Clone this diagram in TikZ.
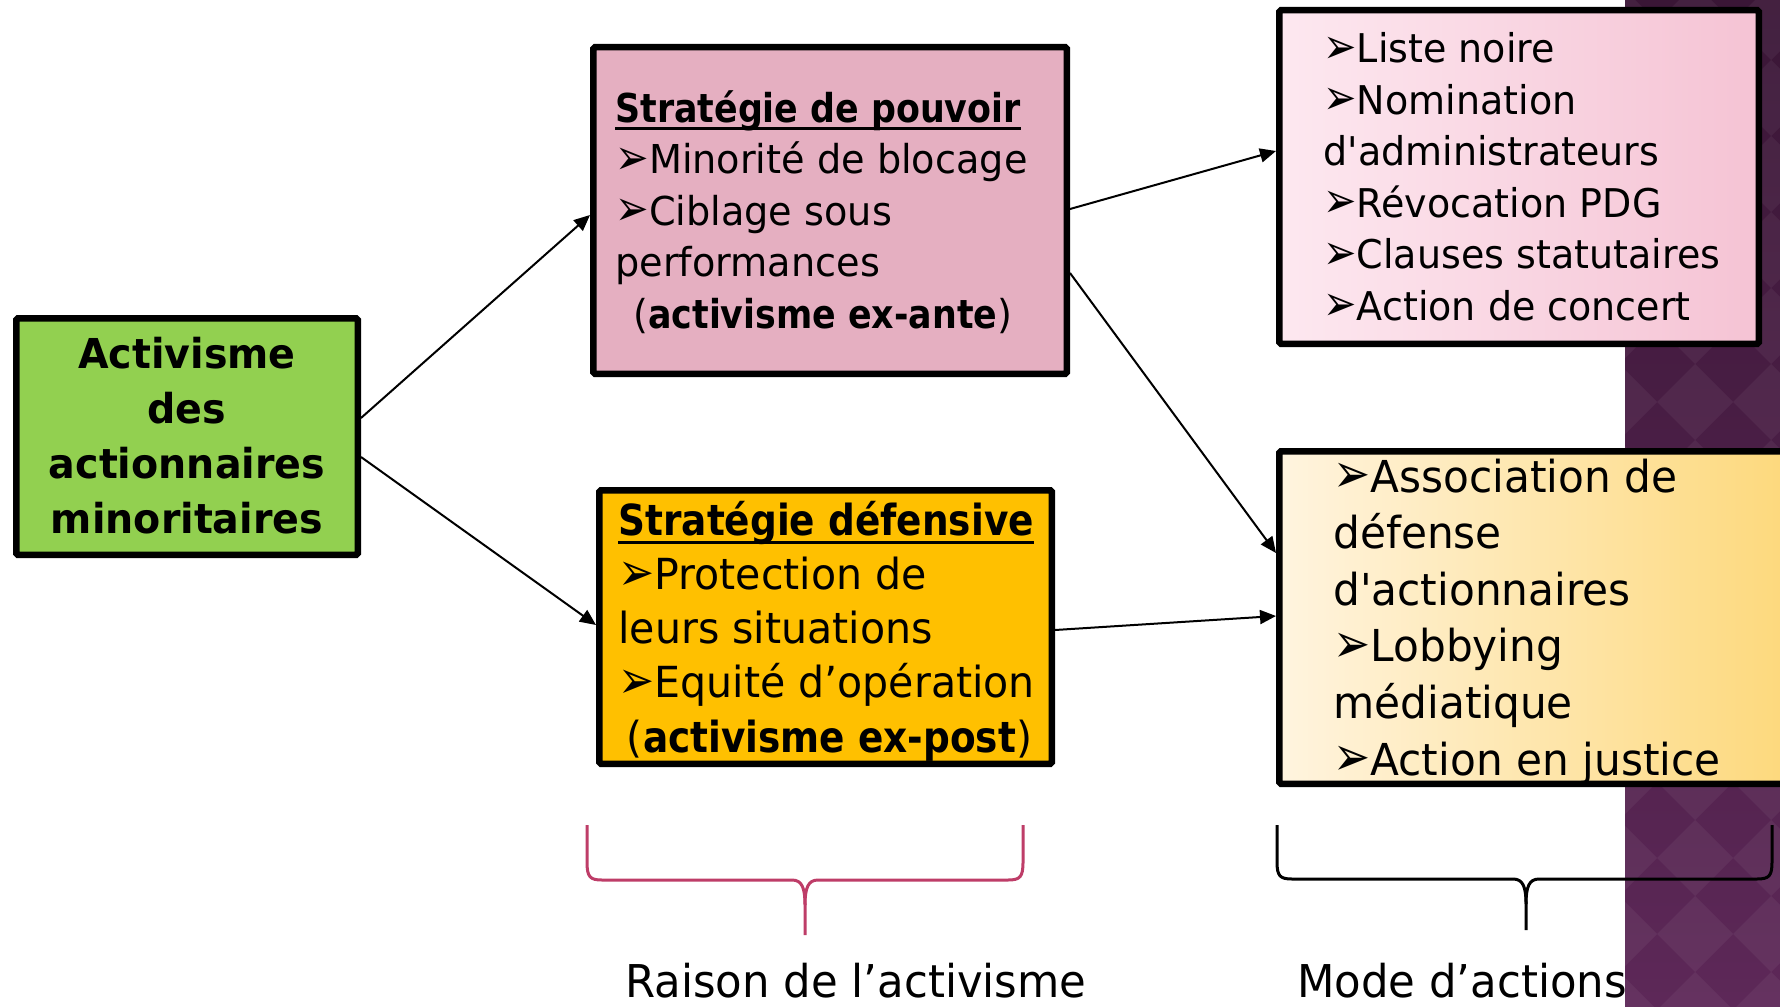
\documentclass[tikz,border=0pt]{standalone}
\usepackage{fontspec}
\setmainfont{DejaVu Sans}[FakeStretch=0.96, Ligatures=TeXOff, BoldFeatures={FakeStretch=0.875}]
\newfontfamily\greenfont{DejaVu Sans}[FakeStretch=0.96, Ligatures=TeXOff]
\usetikzlibrary{arrows.meta,fit}
\definecolor{grn}{HTML}{92D050}
\definecolor{pinkL}{HTML}{E5AFC1}
\definecolor{orng}{HTML}{FFC000}
\definecolor{trA}{HTML}{FDE8F0}
\definecolor{trB}{HTML}{F5C3D4}
\definecolor{ylA}{HTML}{FFF4DF}
\definecolor{ylB}{HTML}{FDD87A}
\definecolor{purA}{HTML}{3A1636}
\definecolor{purB}{HTML}{5D2858}
\definecolor{brc}{HTML}{BE3D68}
\newcommand\fsz[2]{\fontsize{#1}{#2}\selectfont}
\newcommand\blt{\raisebox{-0.02em}{\scalebox{1.05}[1.25]{➢}}}
\newcommand\ulx[1]{\setbox0\hbox{#1}\rlap{\rule[-0.21em]{\wd0}{0.075em}}\box0}
\begin{document}
\begin{tikzpicture}[x=0.5pt,y=-0.5pt,
  box/.style={draw=black, line width=3.25pt, inner sep=0pt, rounded corners=0.8pt},
  txt/.style={anchor=base west, inner sep=0pt, align=left},
  conn/.style={-{Triangle[length=8pt,width=7pt]}, line width=1pt, black},
  bracepath/.style={line width=1.5pt}]
\useasboundingbox (0,0) rectangle (1780,1006);
\fill[white] (0,0) rectangle (1780,1006);
% purple background
\begin{scope}
\clip (1625,0) rectangle (1780,1006);
\shade[top color=purA, bottom color=purB] (1625,0) rectangle (1780,1006);
\foreach \i in {-1,...,2}{
  \foreach \j in {-12,...,2}{
    \fill[white, opacity=0.05] (1695+76*\i,858+76*\j-38) -- ++(38,38) -- ++(-38,38) -- ++(-38,-38) -- cycle;
  }}
\end{scope}
% boxes
\node[box, fill=grn, fit={(16.25,318.25) (357.75,554.75)}] (green) {};
\node[box, fill=pinkL, fit={(593.25,47.25) (1066.75,373.75)}] (pinkbox) {};
\node[box, fill=orng, fit={(599.25,490.25) (1051.75,763.75)}] (orange) {};
\node[box, left color=trA, right color=trB, fit={(1279.25,10.25) (1758.75,343.75)}] (topR) {};
\node[box, left color=ylA, right color=ylB, fit={(1279.25,451.25) (1800,783.75)}] (yellow) {};
% texts (anchored at the baseline of their last line)
\node[anchor=base, align=center, inner sep=0pt, font=\greenfont\bfseries\fsz{20.6}{27.5}] (gtxt) at (187,533) {Activisme\\des\\actionnaires\\minoritaires};
\node[txt, font=\fsz{19.9}{25.75}] (ptxt) at (615,328) {\ulx{\bfseries Stratégie de pouvoir}\\\blt Minorité de blocage\\\blt Ciblage sous\\performances\\\hspace*{0.45em}(\textbf{activisme ex-ante})};
\node[txt, font=\fsz{21.4}{27.1}] (otxt) at (618,752) {\ulx{\bfseries Stratégie défensive}\\\blt Protection de\\leurs situations\\\blt Equité d’opération\\\hspace*{0.2em}(\textbf{activisme ex-post})};
\node[txt, font=\fsz{19.8}{25.75}] (trtxt) at (1323,320) {\blt Liste noire\\\blt Nomination\\d'administrateurs\\\blt Révocation PDG\\\blt Clauses statutaires\\\blt Action de concert};
\node[txt, font=\fsz{22.0}{28.3}] (ytxt) at (1333,775) {\blt Association de\\défense\\d'actionnaires\\\blt Lobbying\\médiatique\\\blt Action en justice};
\node[txt, font=\fsz{22.6}{26}] (lab1) at (625,997) {Raison de l’activisme};
\node[txt, font=\fsz{22.6}{26}] (lab2) at (1297,997) {Mode d’actions};
% connectors
\draw[conn] (green.east |- 0,418) -- (pinkbox.west |- 0,215);
\draw[conn] (green.east |- 0,457) -- (orange.west |- 0,625);
\draw[conn] (pinkbox.east |- 0,209) -- (topR.west |- 0,151);
\draw[conn] (pinkbox.east |- 0,273) -- (yellow.west |- 0,553);
\draw[conn] (orange.east |- 0,630) -- (yellow.west |- 0,616);
% braces
\draw[bracepath, brc] (587,825) -- (587,862) .. controls (587,877) and (590,880) .. (602,880) -- (792,880) .. controls (802,880) and (805,888) .. (805,905) -- (805,935);
\draw[bracepath, brc] (805,905) .. controls (805,888) and (808,880) .. (818,880) -- (1008,880) .. controls (1020,880) and (1023,877) .. (1023,862) -- (1023,825);
\draw[bracepath, black] (1277,825) -- (1277,862) .. controls (1277,876) and (1280,879) .. (1292,879) -- (1513,879) .. controls (1523,879) and (1526,887) .. (1526,904) -- (1526,930);
\draw[bracepath, black] (1526,904) .. controls (1526,887) and (1529,879) .. (1539,879) -- (1757,879) .. controls (1769,879) and (1772,876) .. (1772,862) -- (1772,825);
\end{tikzpicture}
\end{document}
